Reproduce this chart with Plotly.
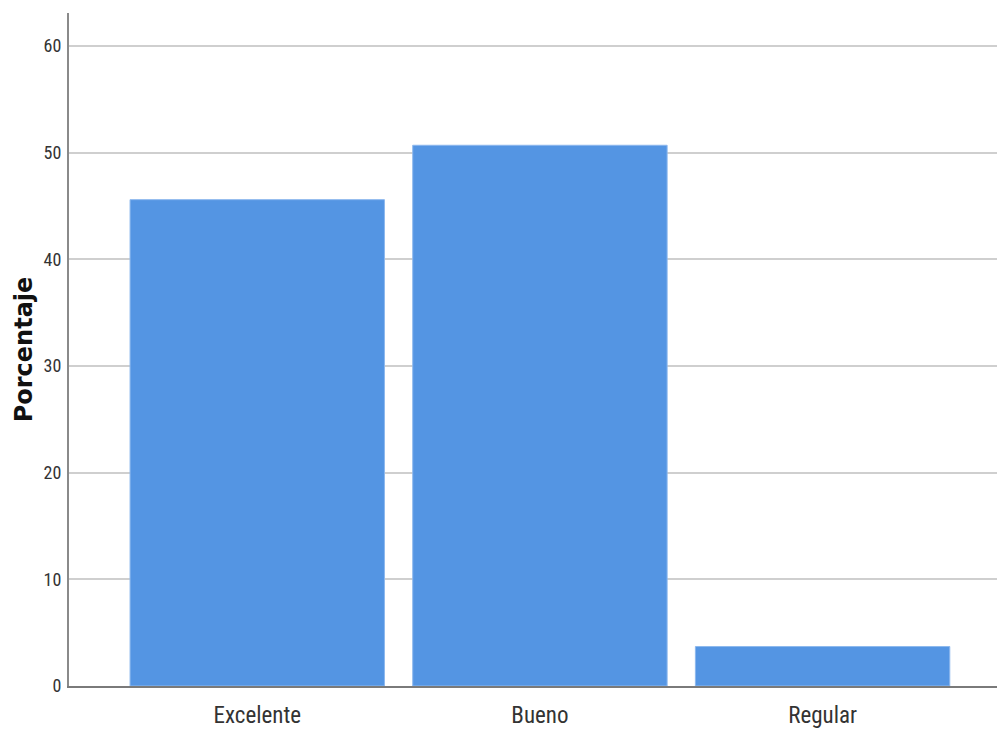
import plotly.graph_objects as go

categories = ["Excelente", "Bueno", "Regular"]
percentages = [45.6, 50.7, 3.7]
y_ticks = [0, 10, 20, 30, 40, 50, 60]

NARROW = "Liberation Sans Narrow, Arial Narrow, Roboto Condensed, Roboto, Arial"

fig = go.Figure(go.Bar(
    x=categories, y=percentages,
    marker=dict(color="#5495E3", line=dict(color="#8DB8EE", width=1)),
    width=0.9,
))

fig.update_layout(
    width=997, height=729,
    margin=dict(l=69, r=0, t=13, b=37),
    paper_bgcolor="white", plot_bgcolor="white",
    showlegend=False,
    font=dict(family=NARROW, color="#333"),
)
fig.update_xaxes(
    range=[-0.666, 2.617],
    showline=True, linecolor="#7a7a7a", linewidth=2,
    showgrid=False,
    ticks="outside", ticklen=7, tickcolor="rgba(0,0,0,0)",
    tickfont=dict(size=23, family=NARROW, color="#333"),
)
fig.update_yaxes(
    range=[0, 63.1],
    tickvals=y_ticks,
    showline=True, linecolor="#8a8a8a", linewidth=2,
    showgrid=True, gridcolor="#cfcfcf", gridwidth=2,
    zeroline=False,
    ticks="outside", ticklen=2, tickcolor="rgba(0,0,0,0)",
    tickfont=dict(size=18, family=NARROW, color="#333"),
    title=dict(text="<b>Porcentaje</b>", font=dict(size=24, family="DejaVu Sans, Arial", color="#111"), standoff=4),
)

fig.write_html(
    "out.html",
    config={"displayModeBar": False},
    post_script="document.body.style.margin='0';document.body.style.overflow='hidden';",
)
